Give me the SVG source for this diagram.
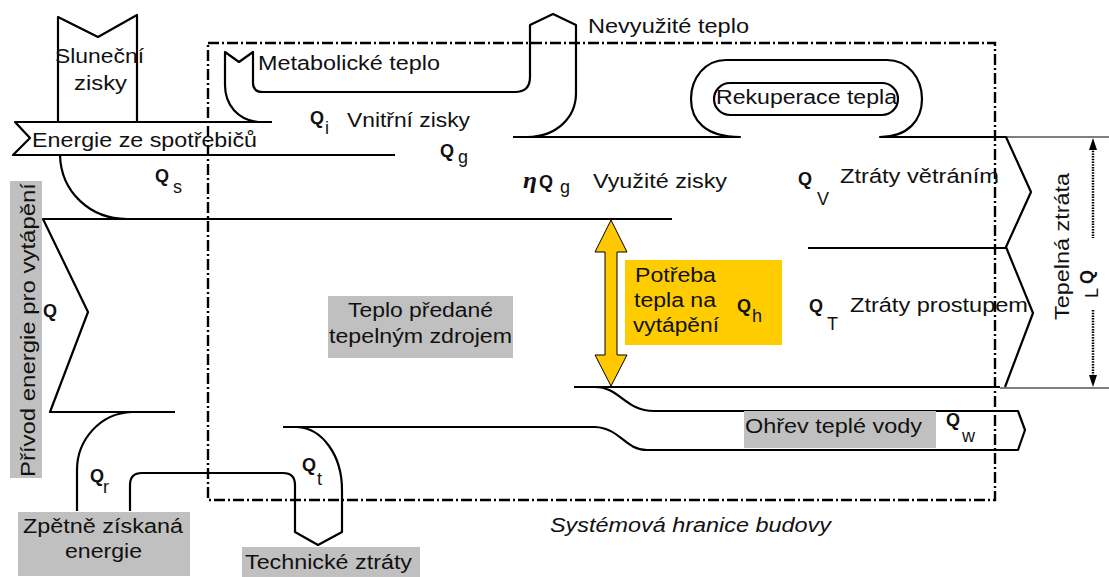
<svg xmlns="http://www.w3.org/2000/svg" width="1109" height="577" viewBox="0 0 1109 577">
<style>
.ln{fill:none;stroke:#000;stroke-width:2.2;stroke-linejoin:round}
.thin{fill:none;stroke:#000;stroke-width:1.2}
.bd{fill:none;stroke:#000;stroke-width:2.4;stroke-dasharray:11 3 2 3}
.dot{fill:none;stroke:#000;stroke-width:2.5;stroke-dasharray:1.5 1.2}
.t{font-family:"Liberation Sans",Arial,sans-serif;font-size:20px;fill:#111}
.q{font-family:"Liberation Sans",Arial,sans-serif;font-size:18px;font-weight:bold;fill:#111}
.s{font-family:"Liberation Sans",Arial,sans-serif;font-size:18px;fill:#111}
.gray{fill:#C0C0C0}
.yel{fill:#FFCC00}
</style>
<rect width="1109" height="577" fill="#fff"/>

<g id="boundary">
<rect class="bd" x="208" y="43" width="787" height="457"/>
<text class="t" x="550" y="532" font-style="italic" textLength="281" lengthAdjust="spacingAndGlyphs">Systémová hranice budovy</text>
</g>

<g id="connectors">
<path class="ln" d="M58,122 V17 L98,37 L137,15 V122"/>
<path class="ln" d="M272,122 H15 L30,138 L13,155 H395"/>
<path class="ln" d="M258,122 C238,120 225,105 225,85 V52 L239,62 L253,52 V83 Q253,92 263,92 H515 Q530,92 530,77 V25 L553,14 L576,25 V93 C576,118 556,137 527,137"/>
<path class="ln" d="M513,137 H740 C705,137 691,120 691,99 C691,78 705,60 726,60 H887 C908,60 922,78 922,99 C922,120 908,137 880,137 H1006 L1031,192 L1006,247 L1033,313 L1005,387"/>
<path class="thin" d="M1006,137 H1109 M1000,388 H1109"/>
<rect class="ln" x="714" y="83" width="184" height="32" rx="16" ry="16"/>
<path class="ln" d="M808,248 H1006"/>
<path class="ln" d="M60,155 C61,192 90,219 127,219"/>
<path class="ln" d="M672,219 H43 L88,312 L50,412 H175"/>
<path class="ln" d="M132,412 C100,413 77,440 77,470 V511"/>
<path class="ln" d="M130,511 V485 Q130,473 142,473 H283 Q295,473 295,485 V532 L318,545 L342,532 V490 C342,455 322,428 297,427"/>
<path class="ln" d="M283,427 H595 C620,428 625,450 647,450 H1018 L1025,430 L1018,411 H654 C625,411 620,387 595,387"/>
<path class="ln" d="M574,387 H1000"/>
<polygon points="611,220 627,252 617,252 617,355 627,355 611,386 595,355 605,355 605,252 595,252" fill="#FFC800" stroke="#000" stroke-width="1"/>
<path class="dot" d="M1093,148 V238 M1093,310 V378"/>
<polygon points="1093,138 1089,150 1097,150" fill="#000"/>
<polygon points="1093,387 1089,375 1097,375" fill="#000"/>
</g>

<g id="slunecni">
<text class="t" x="55" y="63" font-size="19" textLength="89" lengthAdjust="spacingAndGlyphs">Sluneční</text>
<text class="t" x="74" y="90" font-size="19" textLength="53" lengthAdjust="spacingAndGlyphs">zisky</text>
</g>
<g id="energie">
<text class="t" x="32" y="147" textLength="225" lengthAdjust="spacingAndGlyphs">Energie ze spotřebičů</text>
</g>
<g id="metabolicke">
<text class="t" x="258" y="70" textLength="182" lengthAdjust="spacingAndGlyphs">Metabolické teplo</text>
</g>
<g id="nevyuzite">
<text class="t" x="588" y="33" textLength="161" lengthAdjust="spacingAndGlyphs">Nevyužité teplo</text>
</g>
<g id="rekuperace">
<text class="t" x="716" y="104" textLength="181" lengthAdjust="spacingAndGlyphs">Rekuperace tepla</text>
</g>
<g id="vnitrni">
<text class="q" x="310" y="124">Q</text>
<text class="s" x="325" y="134">i</text>
<text class="t" x="347" y="127" textLength="123" lengthAdjust="spacingAndGlyphs">Vnitřní zisky</text>
</g>
<g id="qg">
<text class="q" x="440" y="157">Q</text>
<text class="s" x="458" y="163">g</text>
</g>
<g id="vyuzite">
<text x="523" y="188" font-family="Liberation Serif,serif" font-size="24" font-weight="bold" font-style="italic" fill="#111" textLength="14" lengthAdjust="spacingAndGlyphs">η</text>
<text class="q" x="539" y="188">Q</text>
<text class="s" x="560" y="193">g</text>
<text class="t" x="593" y="188" textLength="134" lengthAdjust="spacingAndGlyphs">Využité zisky</text>
</g>
<g id="vetrani">
<text class="q" x="798" y="185">Q</text>
<text class="s" x="817" y="205">V</text>
<text class="t" x="840" y="183" textLength="159" lengthAdjust="spacingAndGlyphs">Ztráty větráním</text>
</g>
<g id="prostup">
<text class="q" x="809" y="312">Q</text>
<text class="s" x="827" y="330">T</text>
<text class="t" x="850" y="312" textLength="178" lengthAdjust="spacingAndGlyphs">Ztráty prostupem</text>
</g>
<g id="potreba">
<rect class="yel" x="625" y="260" width="157" height="85"/>
<text class="t" x="635" y="282" textLength="81" lengthAdjust="spacingAndGlyphs">Potřeba</text>
<text class="t" x="634" y="307" textLength="82" lengthAdjust="spacingAndGlyphs">tepla na</text>
<text class="t" x="633" y="332" textLength="86" lengthAdjust="spacingAndGlyphs">vytápění</text>
<text class="q" x="737" y="312">Q</text>
<text class="s" x="752" y="322">h</text>
</g>
<g id="teplo-predane">
<rect class="gray" x="328" y="296" width="185" height="62"/>
<text class="t" x="348" y="317" textLength="145" lengthAdjust="spacingAndGlyphs">Teplo předané</text>
<text class="t" x="329" y="343" textLength="183" lengthAdjust="spacingAndGlyphs">tepelným zdrojem</text>
</g>
<g id="ohrev">
<rect class="gray" x="744" y="411" width="192" height="37"/>
<text class="t" x="745" y="433" textLength="177" lengthAdjust="spacingAndGlyphs">Ohřev teplé vody</text>
<text class="q" x="946" y="426">Q</text>
<text class="s" x="962" y="442">w</text>
</g>
<g id="privod">
<rect class="gray" x="10" y="181" width="32" height="297"/>
<text class="t" transform="translate(35,477) rotate(-90)" x="0" y="0" textLength="294" lengthAdjust="spacingAndGlyphs">Přívod energie pro vytápění</text>
<text class="q" x="43" y="317">Q</text>
</g>
<g id="qs">
<text class="q" x="155" y="182">Q</text>
<text class="s" x="173" y="193">s</text>
</g>
<g id="zpetne">
<rect class="gray" x="18" y="512" width="172" height="64"/>
<text class="t" x="23" y="533" textLength="160" lengthAdjust="spacingAndGlyphs">Zpětně získaná</text>
<text class="t" x="65" y="558" textLength="77" lengthAdjust="spacingAndGlyphs">energie</text>
<text class="q" x="90" y="482">Q</text>
<text class="s" x="103" y="493">r</text>
</g>
<g id="technicke">
<rect class="gray" x="242" y="547" width="178" height="30"/>
<text class="t" x="245" y="569" textLength="167" lengthAdjust="spacingAndGlyphs">Technické ztráty</text>
<text class="q" x="302" y="471">Q</text>
<text class="s" x="317" y="485">t</text>
</g>
<g id="tepelna-ztrata">
<text class="t" transform="translate(1069,320) rotate(-90)" x="0" y="0" textLength="147" lengthAdjust="spacingAndGlyphs">Tepelná ztráta</text>
<text class="q" transform="translate(1093,284) rotate(-90)" x="0" y="0">Q</text>
<text class="s" transform="translate(1098,298) rotate(-90)" x="0" y="0" font-size="14">L</text>
</g>
</svg>
